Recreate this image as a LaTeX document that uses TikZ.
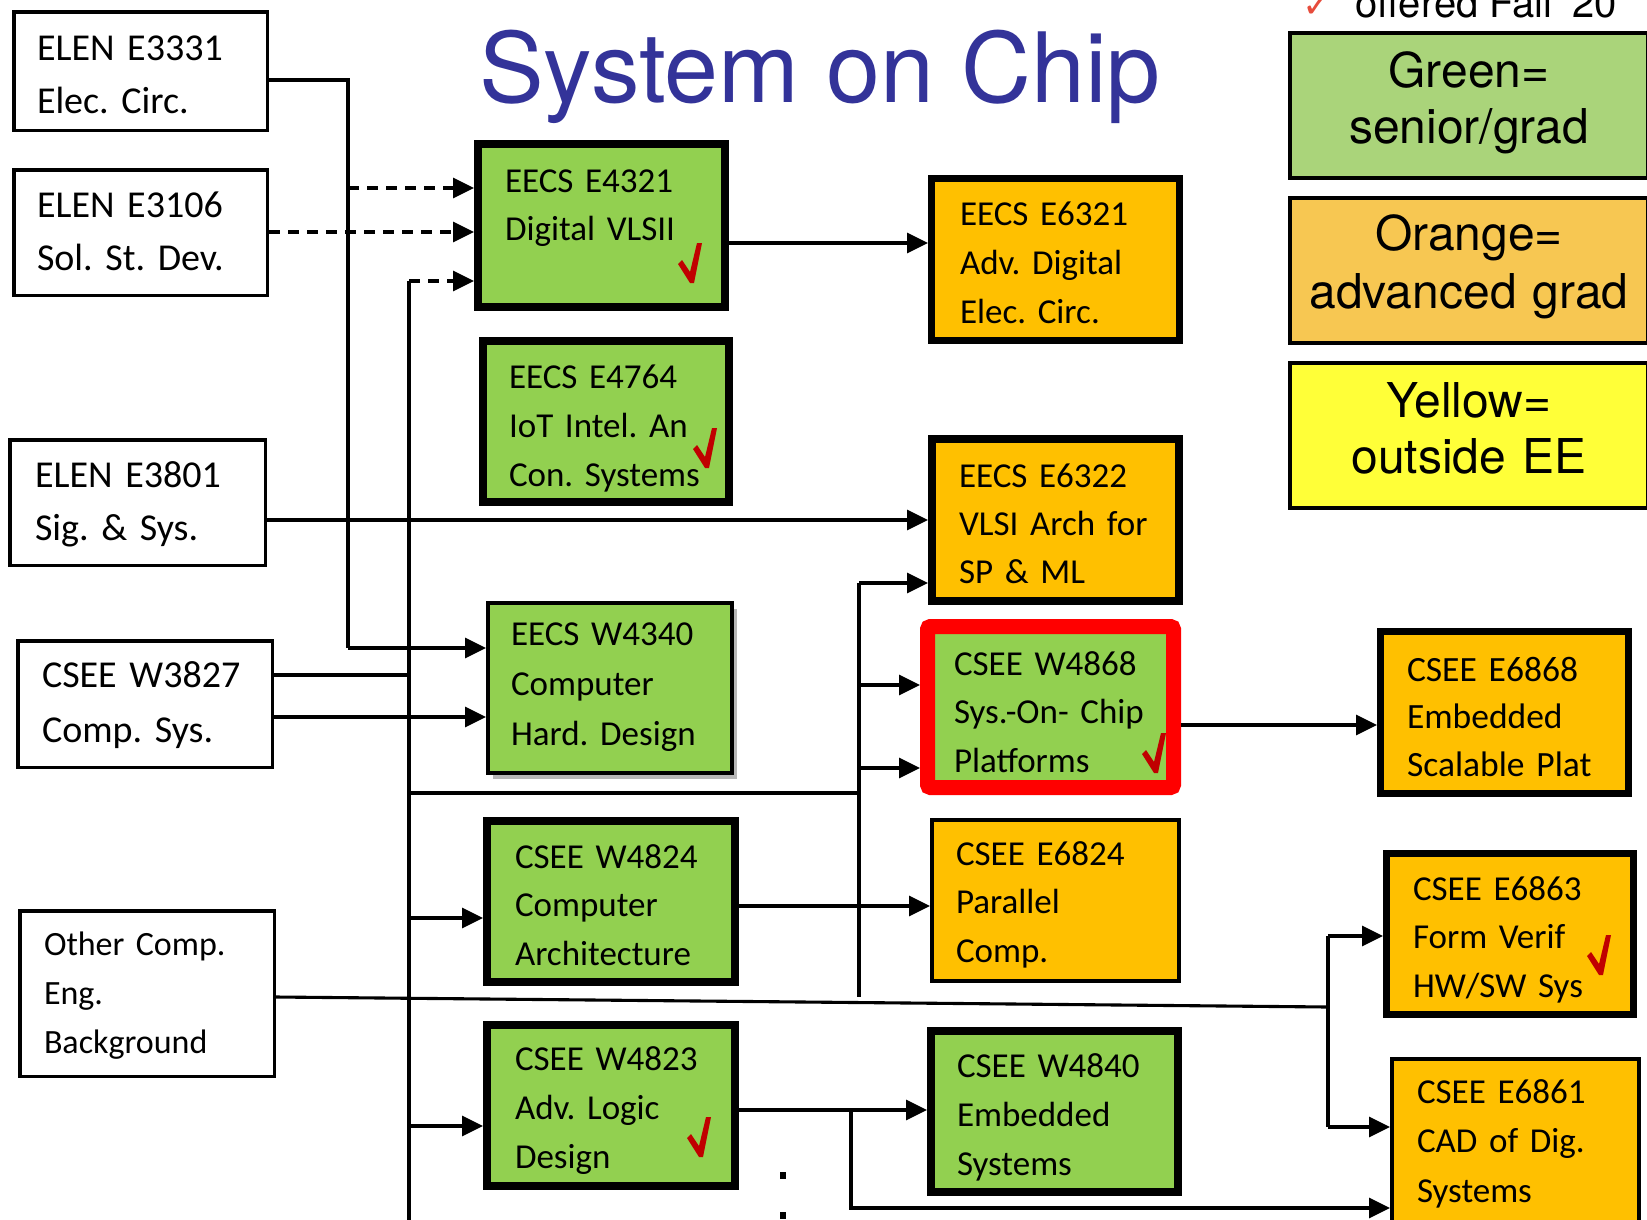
\documentclass[tikz,border=0pt]{standalone}
\usepackage{fontspec}
\setmainfont{Carlito}
\newfontfamily\heros{TeX Gyre Heros}
\newfontfamily\dejavu{DejaVu Sans}
\usetikzlibrary{arrows.meta,shadows}
\definecolor{cgreen}{HTML}{92D050}
\definecolor{corange}{HTML}{FFC000}
\definecolor{lgreen}{HTML}{AAD47A}
\definecolor{lorange}{HTML}{F7C752}
\definecolor{lyellow}{HTML}{FFFF38}
\definecolor{chkred}{HTML}{C00000}
\definecolor{notered}{HTML}{E74C3C}
\definecolor{titleblue}{HTML}{333399}
\begin{document}
\begin{tikzpicture}[x=1pt,y=-1pt,
  crs/.style={draw=black, align=left, inner ysep=0pt, text=black},
  wbox/.style={crs, line width=3.5pt, fill=white, font=\fontsize{38}{53}\selectfont},
  gbox/.style={crs, line width=8pt, fill=cgreen, font=\fontsize{35}{49}\selectfont},
  obox/.style={crs, line width=7pt, fill=corange, font=\fontsize{35}{49}\selectfont},
  legbox/.style={draw=black, line width=4pt, align=center, inner xsep=0pt, inner ysep=0pt, text width=358pt, font=\heros\fontsize{48}{56}\selectfont},
  conn/.style={line width=3.1pt, black, line join=miter},
  arr/.style={conn, -{Triangle[length=21pt,width=20pt]}},
  darr/.style={arr, dash pattern=on 11pt off 8pt},
  chk/.pic={\fill[chkred] (0,21) -- (4,17) -- (12,29) -- (19,0) -- (24,0) -- (16,40) -- (12,40) -- cycle;}
]
\path[use as bounding box, fill=white] (0,0) rectangle (1647,1219);

% title and note
\node[anchor=base west, inner sep=0pt, font=\heros\fontsize{97}{110}\selectfont, text=titleblue] (title) at (479,102) {System on Chip};
\node[anchor=base west, inner sep=0pt, font=\dejavu\fontsize{36}{40}\selectfont, text=notered] (notechk) at (1302,17) {✓};
\node[anchor=base west, inner sep=0pt, font=\heros\fontsize{40}{48}\selectfont] (note) at (1355,17) {offered Fall ’20};

% legend
\node[legbox, fill=lgreen, text height=54pt, text depth=91pt] (legG) at (1469,105.5) {Green=\\senior/grad};
\node[legbox, fill=lorange, text height=52pt, text depth=93pt, font=\heros\fontsize{48}{58}\selectfont] (legO) at (1469,270.5) {Orange=\\advanced grad};
\node[legbox, fill=lyellow, text height=54pt, text depth=91pt] (legY) at (1469,435.5) {Yellow=\\outside EE};

% white prerequisite boxes
\node[wbox, inner xsep=23.25pt, text width=207pt, text height=48.25pt, text depth=70.25pt] (E3331) at (140.5,71) {ELEN~E3331\\Elec.~Circ.};
\node[wbox, inner xsep=23.25pt, text width=207pt, text height=47.25pt, text depth=78.25pt] (E3106) at (140.5,232.5) {ELEN~E3106\\Sol.~St.~Dev.};
\node[wbox, inner xsep=25.25pt, text width=205pt, text height=47.25pt, text depth=78.25pt] (E3801) at (137.5,502.5) {ELEN~E3801\\Sig.~\&~Sys.};
\node[wbox, inner xsep=24.25pt, text width=206pt, text height=46.25pt, text depth=80.25pt, font=\fontsize{38}{55}\selectfont] (W3827) at (145,704) {CSEE~W3827\\Comp.~Sys.};
\node[wbox, inner xsep=24.25pt, text width=206pt, text height=44.25pt, text depth=121.25pt, font=\fontsize{34}{49}\selectfont] (Other) at (147,993.5) {Other~Comp.\\Eng.\\Background};

% course boxes
\node[gbox, inner xsep=27pt, text width=193pt, text height=48pt, text depth=115pt, font=\fontsize{35}{48}\selectfont] (E4321) at (601.5,225.5) {EECS~E4321\\Digital~VLSII};
\node[obox, inner xsep=28.5pt, text width=191pt, text height=46.5pt, text depth=115.5pt] (E6321) at (1055.5,259.5) {EECS~E6321\\Adv.~Digital\\Elec.~Circ.};
\node[gbox, inner xsep=26pt, text width=194pt, text height=47pt, text depth=114pt] (E4764) at (606,421.5) {EECS~E4764\\IoT~Intel.~An\\Con.~Systems};
\node[obox, line width=8pt, inner xsep=27pt, text width=193pt, text height=48pt, text depth=114pt, font=\fontsize{35}{48}\selectfont] (E6322) at (1055.5,520) {EECS~E6322\\VLSI~Arch~for\\SP~\&~ML};
\node[gbox, line width=4pt, inner xsep=23pt, text width=198pt, text height=42pt, text depth=128pt, font=\fontsize{35}{50}\selectfont,
      drop shadow={shadow xshift=5pt, shadow yshift=-6pt, fill=black!40, opacity=0.7}] (W4340) at (610,688) {EECS~W4340\\Computer\\Hard.~Design};
\node[gbox, draw=red, line width=15pt, rounded corners=3pt, inner xsep=26.5pt, text width=193pt, text height=48.5pt, text depth=112.5pt, font=\fontsize{35}{48.5}\selectfont] (W4868) at (1050.5,707) {CSEE~W4868\\\mbox{Sys.-On- Chip}\\Platforms};
\node[obox, inner xsep=26.5pt, text width=195pt, text height=49.5pt, text depth=112.5pt, font=\fontsize{35.5}{47.5}\selectfont] (E6868) at (1504.5,712.5) {CSEE~E6868\\Embedded\\Scalable~Plat};
\node[gbox, inner xsep=28pt, text width=192pt, text height=47pt, text depth=114pt, font=\fontsize{35}{48.5}\selectfont] (W4824) at (611,901.5) {CSEE~W4824\\Computer\\Architecture};
\node[obox, line width=4pt, inner xsep=24pt, text width=199pt, text height=45pt, text depth=116pt, font=\fontsize{35}{48.5}\selectfont] (E6824) at (1055.5,900.5) {CSEE~E6824\\Parallel\\Comp.};
\node[obox, inner xsep=26.5pt, text width=194pt, text height=46.5pt, text depth=114.5pt, font=\fontsize{35}{48.5}\selectfont] (E6863) at (1510,934) {CSEE~E6863\\Form~Verif\\HW/SW~Sys};
\node[gbox, inner xsep=28pt, text width=192pt, text height=45pt, text depth=116pt] (W4823) at (611,1105.5) {CSEE~W4823\\Adv.~Logic\\Design};
\node[gbox, inner xsep=26pt, text width=195pt, text height=46pt, text depth=115pt] (W4840) at (1054.5,1111.5) {CSEE~W4840\\Embedded\\Systems};
\node[obox, line width=4pt, inner xsep=25pt, text width=197pt, text height=44pt, text depth=135pt, font=\fontsize{35}{49.5}\selectfont] (E6861) at (1515.5,1148.5) {CSEE~E6861\\CAD~of~Dig.\\Systems};

% check marks
\pic at (678,243) {chk};
\pic at (693,428) {chk};
\pic at (1142,733) {chk};
\pic at (687,1117) {chk};
\pic at (1587,935) {chk};

% dots
\fill (780,1172) rectangle (786,1179);
\fill (780,1212) rectangle (786,1219);

% bus A (from ELEN E3331)
\coordinate (A1) at (348,80);
\coordinate (A2) at (348,188);
\coordinate (A3) at (348,648);
\draw[conn] (E3331.east |- A1) -- (A1) -- (A3);
\draw[arr] (A3) -- (W4340.west |- A3);
\draw[darr] (A2) -- (E4321.west |- A2);

% ELEN E3106
\coordinate (D2) at (300,232);
\draw[darr] (E3106.east |- D2) -- (E4321.west |- D2);

% bus B (from CSEE W3827)
\coordinate (B0) at (409,281);
\coordinate (B1) at (409,675);
\coordinate (B2) at (409,793);
\coordinate (B3) at (409,918);
\coordinate (B4) at (409,1126);
\coordinate (B5) at (409,1225);
\draw[conn] (B0) -- (B5);
\draw[darr] (B0) -- (E4321.west |- B0);
\draw[conn] (W3827.east |- B1) -- (B1);
\coordinate (C1) at (300,717);
\draw[arr] (W3827.east |- C1) -- (W4340.west |- C1);
\draw[arr] (B3) -- (W4824.west |- B3);
\draw[arr] (B4) -- (W4823.west |- B4);

% bus C
\coordinate (K0) at (859,583);
\coordinate (K1) at (859,685);
\coordinate (K2) at (859,768);
\coordinate (K3) at (859,793);
\coordinate (K4) at (859,997);
\draw[conn] (B2) -- (K3);
\draw[conn] (K0) -- (K4);
\draw[arr] (K0) -- (E6322.west |- K0);
\draw[arr] (K1) -- (W4868.west |- K1);
\draw[arr] (K2) -- (W4868.west |- K2);

% direct arrows
\draw[arr] (E3801.east |- E6322.west) -- (E6322.west);
\coordinate (Q1) at (800,243);
\draw[arr] (E4321.east |- Q1) -- (E6321.west |- Q1);
\coordinate (Q2) at (1250,725);
\draw[arr] (W4868.east |- Q2) -- (E6868.west |- Q2);
\coordinate (Q3) at (800,906);
\draw[arr] (W4824.east |- Q3) -- (E6824.west |- Q3);
\coordinate (Q4) at (851,1110);
\draw[arr] (W4823.east |- Q4) -- (W4840.west |- Q4);
\coordinate (Q5) at (851,1208);
\draw[arr] (Q4) -- (Q5) -- (E6861.west |- Q5);

% bus D (from Other Comp. Eng.)
\coordinate (O1) at (300,997);
\coordinate (R0) at (1328,936);
\coordinate (R1) at (1328,1007);
\coordinate (R2) at (1328,1127);
\draw[conn] (Other.east |- O1) -- (R1);
\draw[conn] (R0) -- (R2);
\draw[arr] (R0) -- (E6863.west |- R0);
\draw[arr] (R2) -- (E6861.west |- R2);
\end{tikzpicture}
\end{document}
